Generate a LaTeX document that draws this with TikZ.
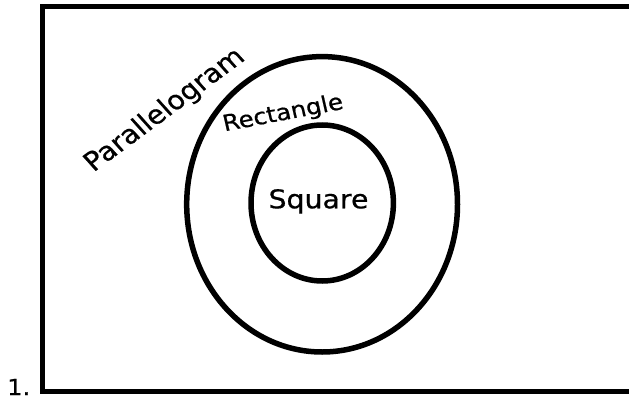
\documentclass[tikz,border=0pt]{standalone}
\usepackage{fontspec}
\setmainfont{DejaVu Sans}
\newfontfamily\lblfont{DejaVu Sans}[FakeBold=0.6]
\usepackage{tikz}

\begin{document}
\begin{tikzpicture}[x=1pt, y=-1pt,
    ring/.style={line width=5.5pt},
    lbl/.style={inner sep=0pt, anchor=base, xscale=1.1}]
                    \useasboundingbox (0,0) rectangle (629,396);
                    \draw[line width=5pt] (42.5,7) rectangle (631,391);
                    \draw[ring] (322.1,204.3) ellipse [x radius=135.4, y radius=147.7];
                    \draw[ring] (322.2,203) ellipse [x radius=71.2, y radius=78];
                    \node[lbl, font=\lblfont\fontsize{25.8}{30}\selectfont] (square) at (318.5,208.3) {Square};
                    \node[lbl, rotate=11.8, font=\lblfont\fontsize{22.3}{26}\selectfont] (rect) at (284.5,120) {Rectangle};
                    \node[lbl, rotate=39.2, font=\lblfont\fontsize{26}{30}\selectfont] (para) at (169.9,115.9) {Parallelogram};
                    \node[lbl, anchor=base west, font=\lblfont\fontsize{22}{26}\selectfont] (num) at (7,395) {1.};
                \end{tikzpicture}
\end{document}
